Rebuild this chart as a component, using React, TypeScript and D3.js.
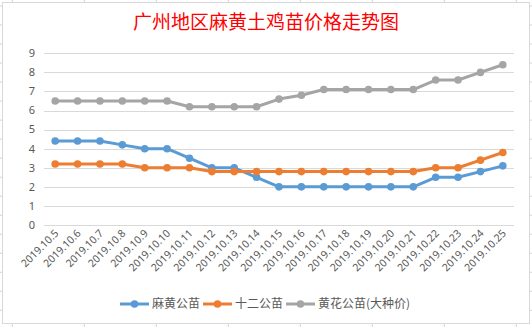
import React from "react";
import * as d3 from "d3";

const dates = [
  "2019.10.5", "2019.10.6", "2019.10.7", "2019.10.8", "2019.10.9", "2019.10.10",
  "2019.10.11", "2019.10.12", "2019.10.13", "2019.10.14", "2019.10.15", "2019.10.16",
  "2019.10.17", "2019.10.18", "2019.10.19", "2019.10.20", "2019.10.21", "2019.10.22",
  "2019.10.23", "2019.10.24", "2019.10.25",
];
const mahuang = [4.4, 4.4, 4.4, 4.2, 4.0, 4.0, 3.5, 3.0, 3.0, 2.5, 2.0, 2.0, 2.0, 2.0, 2.0, 2.0, 2.0, 2.5, 2.5, 2.8, 3.1];
const shier = [3.2, 3.2, 3.2, 3.2, 3.0, 3.0, 3.0, 2.8, 2.8, 2.8, 2.8, 2.8, 2.8, 2.8, 2.8, 2.8, 2.8, 3.0, 3.0, 3.4, 3.8];
const huanghua = [6.5, 6.5, 6.5, 6.5, 6.5, 6.5, 6.2, 6.2, 6.2, 6.2, 6.6, 6.8, 7.1, 7.1, 7.1, 7.1, 7.1, 7.6, 7.6, 8.0, 8.4];
const seriesNames = ["麻黄公苗", "十二公苗", "黄花公苗(大种价)"];
const yTicks = [0, 1, 2, 3, 4, 5, 6, 7, 8, 9];
const title = "广州地区麻黄土鸡苗价格走势图";

const colors = ["#5b9bd5", "#ed7d31", "#a5a5a5"];

export default function App() {
  const W = 532, H = 327;
  const x = d3.scaleBand<string>().domain(dates).range([44, 514]);
  const y = d3.scaleLinear().domain([0, 9]).range([225, 53.3]);
  const line = d3.line<number>()
    .x((_, i) => (x(dates[i]) as number) + x.bandwidth() / 2)
    .y((d) => y(d));
  const all = [mahuang, shier, huanghua];

  const colTicks = d3.range(8).map((k) => 12.3 + 72 * k);
  const rowTicks = d3.range(17).map((k) => 6 + 19.02 * k).filter((v) => v > 3 && v < 323);

  const legendItems = [
    { lx: 120, tx: 152 },
    { lx: 203, tx: 235 },
    { lx: 286, tx: 318 },
  ];

  return (
    <svg width={W} height={H} style={{ position: "absolute", left: 0, top: 0, background: "#fff" }}>
      {/* spreadsheet grid stubs */}
      {colTicks.map((cx, i) => (
        <g key={"c" + i} stroke="#d4d4d4" strokeWidth={1}>
          <line x1={cx} x2={cx} y1={0} y2={2} />
          <line x1={cx} x2={cx} y1={324} y2={327} />
        </g>
      ))}
      {rowTicks.map((ry, i) => (
        <g key={"r" + i} stroke="#d4d4d4" strokeWidth={1}>
          <line x1={0} x2={2} y1={ry} y2={ry} />
          <line x1={530} x2={532} y1={ry} y2={ry} />
        </g>
      ))}
      <rect x={2.5} y={2.5} width={527} height={321} fill="#fff" stroke="#d9d9d9" strokeWidth={1} />

      <text x={266} y={29} textAnchor="middle" fill="#ff0000" fontSize={19}
        fontFamily="'Noto Sans CJK SC', sans-serif">{title}</text>

      {yTicks.map((t) => (
        <g key={t}>
          <line x1={44} x2={514} y1={Math.round(y(t)) + 0.5} y2={Math.round(y(t)) + 0.5} stroke="#d9d9d9" strokeWidth={1} />
          <text x={35} y={y(t)} dy="0.35em" textAnchor="end" fill="#595959" fontSize={11}
            fontFamily="'Noto Sans', sans-serif">{t}</text>
        </g>
      ))}

      {dates.map((d) => {
        const cx = (x(d) as number) + x.bandwidth() / 2;
        return (
          <text key={d} transform={`translate(${cx + 4},${234}) rotate(-45)`} textAnchor="end"
            fill="#595959" fontSize={10.5} fontFamily="'Noto Sans', sans-serif">{d}</text>
        );
      })}

      {all.map((s, si) => (
        <g key={si}>
          <path d={line(s) || ""} fill="none" stroke={colors[si]} strokeWidth={3} strokeLinejoin="round" />
          {s.map((v, i) => (
            <circle key={i} cx={(x(dates[i]) as number) + x.bandwidth() / 2} cy={y(v)} r={3.8} fill={colors[si]} />
          ))}
        </g>
      ))}

      {legendItems.map((it, i) => (
        <g key={i}>
          <line x1={it.lx} x2={it.lx + 29} y1={304} y2={304} stroke={colors[i]} strokeWidth={3} />
          <circle cx={it.lx + 14.5} cy={304} r={3.8} fill={colors[i]} />
          <text x={it.tx} y={304} dy="0.35em" fill="#595959" fontSize={12}
            fontFamily="'Noto Sans CJK SC', sans-serif">{seriesNames[i]}</text>
        </g>
      ))}
    </svg>
  );
}
